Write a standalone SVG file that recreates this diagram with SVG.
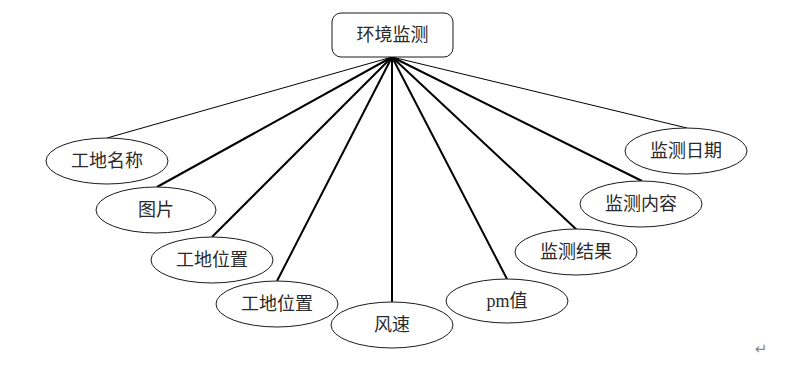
<svg xmlns="http://www.w3.org/2000/svg" width="789" height="366" viewBox="0 0 789 366">
<style>
.n ellipse, .n rect { fill: #ffffff; stroke: #1a1a1a; stroke-width: 1; }
.t { font-family: "Liberation Serif", "Noto Sans CJK SC", serif; font-size: 18px; fill: #2a2a2a; text-anchor: middle; dominant-baseline: central; }
.c line { stroke: #000; stroke-width: 2; }
.c line.thin { stroke-width: 1; }
</style>
<rect width="789" height="366" fill="#ffffff"/>
<g id="connectors" class="c">
<line class="thin" x1="392" y1="57" x2="107" y2="138"/>
<line x1="392" y1="57" x2="157" y2="187"/>
<line x1="392" y1="57" x2="212" y2="237"/>
<line x1="392" y1="57" x2="277" y2="281"/>
<line x1="392" y1="57" x2="392" y2="302"/>
<line x1="392" y1="57" x2="507" y2="279"/>
<line x1="392" y1="57" x2="577" y2="230"/>
<line x1="392" y1="57" x2="642" y2="181"/>
<line class="thin" x1="392" y1="57" x2="687" y2="128"/>
</g>
<g id="root" class="n"><rect x="332" y="13" width="121" height="44" rx="9"/><text class="t" x="392.5" y="35">环境监测</text></g>
<g id="n1" class="n"><ellipse cx="107" cy="161" rx="61" ry="23"/><text class="t" x="107" y="161">工地名称</text></g>
<g id="n2" class="n"><ellipse cx="156" cy="210" rx="60" ry="23"/><text class="t" x="156" y="210">图片</text></g>
<g id="n3" class="n"><ellipse cx="212" cy="260" rx="61" ry="23"/><text class="t" x="212" y="260">工地位置</text></g>
<g id="n4" class="n"><ellipse cx="277" cy="304" rx="61" ry="23"/><text class="t" x="277" y="304">工地位置</text></g>
<g id="n5" class="n"><ellipse cx="392" cy="325" rx="61" ry="23"/><text class="t" x="392" y="325">风速</text></g>
<g id="n6" class="n"><ellipse cx="507" cy="301" rx="61" ry="22"/><text class="t" x="507" y="301">pm值</text></g>
<g id="n7" class="n"><ellipse cx="576" cy="252" rx="61" ry="23"/><text class="t" x="576" y="252">监测结果</text></g>
<g id="n8" class="n"><ellipse cx="641" cy="204" rx="61" ry="23"/><text class="t" x="641" y="204">监测内容</text></g>
<g id="n9" class="n"><ellipse cx="686" cy="151" rx="61" ry="23"/><text class="t" x="686" y="151">监测日期</text></g>
<text x="761" y="349" font-family="DejaVu Sans, sans-serif" font-size="15" fill="#888" text-anchor="middle" dominant-baseline="central">↵</text>
</svg>
